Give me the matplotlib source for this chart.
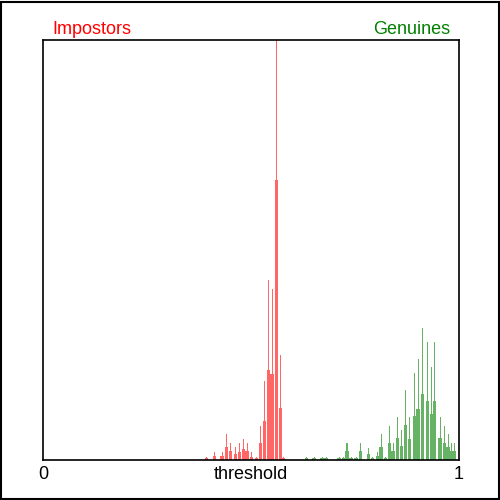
import matplotlib
matplotlib.use('Agg')
import matplotlib.pyplot as plt
from matplotlib.patches import Rectangle

# histogram bins: score, tall (fine) count, wide (coarse) count
imp_scores = [0.393, 0.412, 0.431, 0.441, 0.451, 0.463, 0.472, 0.482, 0.491,
              0.501, 0.513, 0.523, 0.532, 0.542, 0.551, 0.561, 0.571, 0.578]
imp_fine = [3, 8, 8, 26, 17, 13, 17, 21, 17, 8, 3, 34, 79, 180, 171, 420, 105, 3]
imp_coarse = [2, 4, 4, 13, 9, 6, 8, 11, 9, 3, 2, 17, 39, 90, 86, 280, 52, 2]

gen_scores = [0.633, 0.652, 0.671, 0.681, 0.712, 0.722, 0.731, 0.741, 0.753,
              0.763, 0.782, 0.792, 0.804, 0.813, 0.823, 0.833, 0.842, 0.852,
              0.862, 0.871, 0.881, 0.893, 0.902, 0.912, 0.924, 0.934, 0.941,
              0.955, 0.965, 0.974, 0.982, 0.989]
gen_fine = [3, 3, 3, 3, 3, 3, 17, 3, 3, 17, 12, 3, 8, 26, 3, 34, 17, 43,
            30, 70, 43, 87, 101, 132, 118, 93, 118, 43, 34, 26, 17, 17]
gen_coarse = [2, 2, 2, 2, 2, 2, 9, 2, 2, 9, 6, 2, 4, 13, 2, 17, 9, 22,
              14, 35, 21, 44, 51, 66, 59, 46, 59, 22, 17, 13, 9, 9]

threshold = 0.5

RED = '#ff6666'
GREEN = '#66b366'
px = 1 / 416

plt.rcParams['font.family'] = ['Liberation Sans', 'DejaVu Sans']

fig = plt.figure(figsize=(5, 5), dpi=100)
ax = fig.add_axes([0.086, 0.08, 0.832, 0.84])

for scores, fine, coarse, col in [(imp_scores, imp_fine, imp_coarse, RED),
                                  (gen_scores, gen_fine, gen_coarse, GREEN)]:
    ax.bar(scores, coarse, width=3.6 * px, color=col, linewidth=0)
    ax.bar(scores, fine, width=1.2 * px, color=col, linewidth=0)

ax.set_xlim(0, 1)
ax.set_ylim(0, max(imp_fine + gen_fine))
ax.set_xticks([])
ax.set_yticks([])
for s in ax.spines.values():
    s.set_linewidth(1.2)
    s.set_color('black')

fig.text(0.104, 0.942, 'Impostors', color='red', fontsize=13, ha='left', va='center')
fig.text(0.9, 0.942, 'Genuines', color='green', fontsize=13, ha='right', va='center')
ax.text(0, -0.034, '0', transform=ax.transAxes, fontsize=13, ha='center', va='center')
ax.text(threshold, -0.034, 'threshold', transform=ax.transAxes, fontsize=13,
        ha='center', va='center')
ax.text(1, -0.034, '1', transform=ax.transAxes, fontsize=13, ha='center', va='center')

fig.patches.append(Rectangle((0.002, 0.002), 0.995, 0.995, transform=fig.transFigure,
                             fill=False, edgecolor='black', linewidth=1.5))

fig.savefig('out.png', dpi=100)
